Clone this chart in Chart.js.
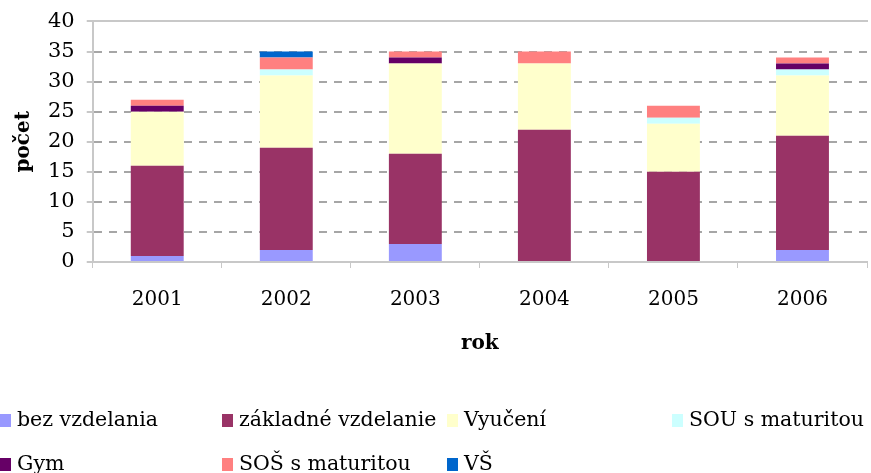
<!DOCTYPE html>
<html>
<head>
<meta charset="utf-8">
<script src="https://cdn.jsdelivr.net/npm/chart.js@4/dist/chart.umd.min.js"></script>
<style>
  body { margin: 0; background: #fff; }
  #wrap { position: relative; width: 871px; height: 473px; }
  #legend { position: absolute; left: 0; top: 0; width: 871px; height: 473px; pointer-events: none;
            font-family: "DejaVu Serif", serif; font-size: 20.5px; color: #000; }
  .item { position: absolute; white-space: nowrap; line-height: 22px; }
  .box { display: inline-block; width: 11px; height: 13px; margin-right: 6px; vertical-align: -1px; }
</style>
</head>
<body>
<div id="wrap">
  <canvas id="chart" width="871" height="473"></canvas>
  <div id="legend"></div>
</div>
<script>
const years = ["2001", "2002", "2003", "2004", "2005", "2006"];

const bezVzdelania = [1, 2, 3, 0, 0, 2];
const zakladne = [15, 17, 15, 22, 15, 19];
const vyuceni = [9, 12, 15, 11, 8, 10];
const souMaturita = [0, 1, 0, 0, 1, 1];
const gym = [1, 0, 1, 0, 0, 1];
const sosMaturita = [1, 2, 1, 2, 2, 1];
const vs = [0, 1, 0, 0, 0, 0];

const seriesNames = ["bez vzdelania", "základné vzdelanie", "Vyučení", "SOU s maturitou",
  "Gym", "SOŠ s maturitou", "VŠ"];
const seriesColors = ["#9999FF", "#993366", "#FFFFCC", "#CCFFFF", "#660066", "#FF8080", "#0066CC"];
const seriesValues = [bezVzdelania, zakladne, vyuceni, souMaturita, gym, sosMaturita, vs];

const font = "DejaVu Serif";

const datasets = seriesNames.map((name, i) => ({
  label: name,
  data: seriesValues[i],
  backgroundColor: seriesColors[i],
  borderWidth: 0,
  barPercentage: 0.82,
  categoryPercentage: 0.5,
}));

const chart = new Chart(document.getElementById("chart"), {
  type: "bar",
  data: { labels: years, datasets },
  options: {
    responsive: false,
    animation: false,
    layout: { padding: { left: 8, right: 4, top: 8, bottom: 113 } },
    plugins: {
      legend: { display: false },
      tooltip: { enabled: false },
    },
    scales: {
      x: {
        stacked: true,
        grid: { offset: true, drawOnChartArea: false, drawTicks: true, tickLength: 6, color: "#c8c8c8", tickColor: "#c8c8c8" },
        border: { color: "#c8c8c8", width: 2 },
        ticks: { color: "#000", font: { family: font, size: 20 }, padding: 20 },
        title: { display: true, text: "rok", color: "#000", font: { family: font, size: 20, weight: "bold" }, padding: { top: 0 } },
      },
      xTop: {
        position: "top",
        grid: { display: false, drawTicks: false },
        border: { color: "#c8c8c8", width: 2 },
        ticks: { display: false },
      },
      y: {
        stacked: true,
        min: 0,
        max: 40,
        ticks: { stepSize: 5, color: "#000", font: { family: font, size: 21, lineHeight: 0.9 }, padding: 12 },
        grid: { color: "#a6a6a6", tickColor: "#c8c8c8", tickLength: 6, lineWidth: 2 },
        border: { color: "#c8c8c8", width: 2, dash: [8, 7] },
        title: { display: true, text: "počet", color: "#000", font: { family: font, size: 20, weight: "bold" }, padding: { bottom: 0 } },
      },
    },
  },
});

// legend in the same grid as the reference
const legendPos = [[0, 408], [222, 408], [447, 408], [672, 408], [0, 452], [222, 452], [447, 452]];
const legendEl = document.getElementById("legend");
chart.data.datasets.forEach((ds, i) => {
  const item = document.createElement("div");
  item.className = "item";
  item.style.left = legendPos[i][0] + "px";
  item.style.top = legendPos[i][1] + "px";
  item.innerHTML = '<span class="box" style="background:' + ds.backgroundColor + '"></span>' + ds.label;
  legendEl.appendChild(item);
});
</script>
</body>
</html>
